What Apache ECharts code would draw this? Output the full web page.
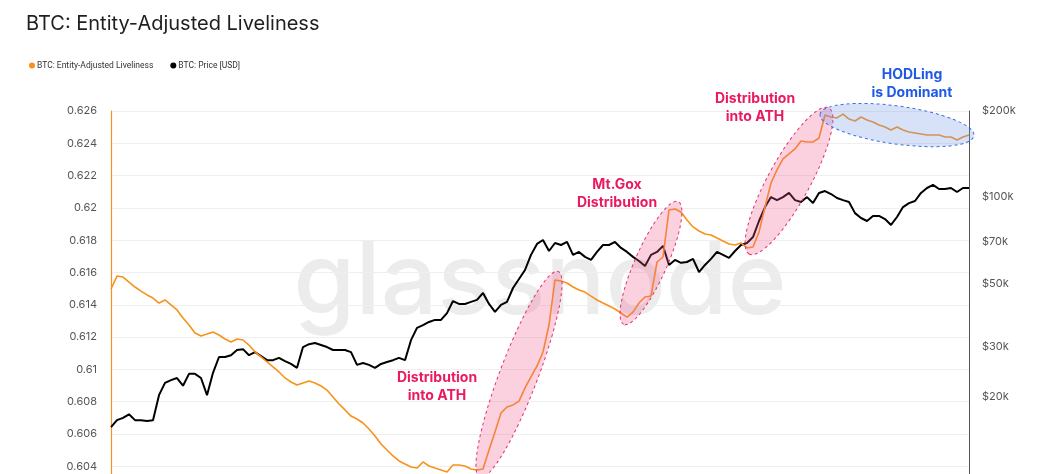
<!DOCTYPE html>
<html>
<head>
<meta charset="utf-8">
<title>BTC: Entity-Adjusted Liveliness</title>
<script src="https://cdn.jsdelivr.net/npm/echarts@6/dist/echarts.min.js"></script>
<style>
  html, body { margin: 0; padding: 0; background: #fff; }
  #chart { width: 1056px; height: 474px; }
</style>
</head>
<body>
<div id="chart"></div>
<script>
// liveliness (left axis)
const liveliness = [
  0.61498, 0.61578, 0.61572, 0.61541, 0.61510, 0.61485, 0.61461, 0.61442, 0.61411, 0.61430,
  0.61399, 0.61368, 0.61318, 0.61275, 0.61225, 0.61207, 0.61219, 0.61232, 0.61213, 0.61188,
  0.61170, 0.61188, 0.61182, 0.61151, 0.61108, 0.61077, 0.61046, 0.61015, 0.60984, 0.60947,
  0.60922, 0.60903, 0.60916, 0.60928, 0.60916, 0.60897, 0.60872, 0.60829, 0.60786, 0.60749,
  0.60711, 0.60693, 0.60668, 0.60631, 0.60588, 0.60538, 0.60501, 0.60464, 0.60433, 0.60414,
  0.60396, 0.60389, 0.60427, 0.60402, 0.60389, 0.60377, 0.60365, 0.60408, 0.60408, 0.60402,
  0.60383, 0.60377, 0.60383, 0.60501, 0.60612, 0.60730, 0.60767, 0.60780, 0.60804, 0.60885,
  0.60953, 0.61021, 0.61108, 0.61275, 0.61554, 0.61547, 0.61535, 0.61510, 0.61492, 0.61479,
  0.61454, 0.61430, 0.61411, 0.61393, 0.61374, 0.61349, 0.61324, 0.61355, 0.61411, 0.61448,
  0.61454, 0.61665, 0.61696, 0.61987, 0.61993, 0.61975, 0.61925, 0.61882, 0.61857, 0.61838,
  0.61832, 0.61814, 0.61795, 0.61776, 0.61770, 0.61783, 0.61752, 0.61758, 0.61851, 0.62006,
  0.62154, 0.62235, 0.62303, 0.62334, 0.62365, 0.62414, 0.62408, 0.62408, 0.62433, 0.62575,
  0.62563, 0.62557, 0.62581, 0.62550, 0.62538, 0.62563, 0.62544, 0.62532, 0.62513, 0.62501,
  0.62482, 0.62501, 0.62482, 0.62470, 0.62464, 0.62458, 0.62451, 0.62451, 0.62451, 0.62439,
  0.62439, 0.62420, 0.62439, 0.62451
];

// price in USD thousands (right axis, log)
const priceK = [
  15.7, 16.6, 16.9, 17.4, 16.6, 16.6, 16.5, 16.6, 20.3, 22.4,
  22.9, 23.3, 21.9, 24.1, 24.1, 23.3, 20.3, 24.3, 27.6, 27.6,
  28.0, 29.2, 29.4, 28.0, 28.7, 27.8, 26.9, 26.9, 27.4, 26.7,
  26.1, 25.3, 29.9, 30.6, 30.9, 30.4, 29.9, 29.2, 29.2, 29.2,
  28.7, 25.9, 26.3, 25.9, 25.3, 26.1, 26.5, 26.9, 27.4, 26.9,
  31.6, 34.9, 35.7, 36.6, 37.2, 37.2, 39.3, 43.3, 42.3, 42.3,
  43.0, 43.7, 46.2, 42.3, 39.7, 42.0, 43.0, 48.1, 51.7, 55.6,
  62.8, 68.6, 70.8, 64.8, 69.1, 68.0, 69.7, 62.8, 64.3, 61.8,
  60.3, 64.3, 68.0, 68.0, 69.7, 66.4, 64.3, 61.8, 59.8, 57.4,
  62.8, 64.3, 67.5, 57.9, 60.3, 58.9, 59.3, 60.8, 54.7, 57.9,
  60.8, 64.3, 62.8, 61.3, 64.8, 68.0, 69.1, 72.5, 82.5, 92.3,
  100.0, 97.6, 100.0, 103.4, 97.6, 96.1, 100.0, 95.3, 103.4, 105.0,
  102.5, 99.3, 97.6, 96.1, 87.9, 84.5, 82.5, 85.9, 85.9, 83.8,
  79.9, 85.2, 92.3, 95.3, 96.9, 103.4, 107.6, 110.3, 106.7, 106.7,
  107.6, 104.2, 107.6, 107.6
];

const leftTicks = [0.604, 0.606, 0.608, 0.61, 0.612, 0.614, 0.616, 0.618, 0.62, 0.622, 0.624, 0.626];
const priceTicksK = [20, 30, 50, 70, 100, 200];

// annotations: index ranges on the liveliness line
const notes = [
  { from: 62, to: 74, ry: 19, pad: 9, kind: 'pink' },
  { from: 86, to: 94, ry: 16, pad: 8, kind: 'pink' },
  { from: 107, to: 119, ry: 21, pad: 8, kind: 'pink' },
  { from: 119, to: 143, ry: 19, pad: 5, kind: 'blue' }
];

// weekly x categories (axis hidden)
const dates = [];
for (let i = 0; i < liveliness.length; i++) {
  const d = new Date(Date.UTC(2022, 11, 12) + i * 7 * 86400000);
  dates.push(d.toISOString().slice(0, 10));
}

const chart = echarts.init(document.getElementById('chart'));
const font = 'Inter, "Noto Sans", sans-serif';

const option = {
  animation: false,
  textStyle: { fontFamily: font },
  title: {
    text: 'BTC: Entity-Adjusted Liveliness',
    left: 21,
    top: 9,
    textStyle: { fontSize: 20, fontWeight: 'normal', color: '#1f1f1f', fontFamily: font }
  },
  legend: {
    left: 24,
    top: 56,
    icon: 'circle',
    itemWidth: 6,
    itemHeight: 6,
    itemGap: 17,
    textStyle: { fontSize: 8.5, color: '#333', fontFamily: 'Roboto, "Liberation Sans", sans-serif', padding: [0, 0, 0, -3] },
    data: ['BTC: Entity-Adjusted Liveliness', 'BTC: Price [USD]']
  },
  grid: { left: 111, right: 87, top: 111, height: 387.6, outerBoundsMode: 'none', containLabel: false },
  xAxis: {
    type: 'category',
    data: dates,
    boundaryGap: false,
    axisLine: { show: false },
    axisTick: { show: false },
    axisLabel: { show: false }
  },
  yAxis: [
    {
      type: 'value',
      min: 0.602,
      max: 0.626,
      interval: 0.002,
      axisLine: { show: true, lineStyle: { color: '#f7931a', width: 1.2 } },
      axisTick: { show: false },
      splitLine: { lineStyle: { color: '#efefef', width: 1 } },
      axisLabel: {
        color: '#555',
        fontSize: 11,
        margin: 14,
        customValues: leftTicks,
        formatter: v => String(+v.toFixed(3))
      }
    },
    {
      type: 'value',
      min: Math.log10(200) - 387.6 / 286,
      max: Math.log10(200),
      position: 'right',
      axisLine: { show: true, lineStyle: { color: '#555', width: 1 } },
      axisTick: { show: false },
      splitLine: { show: false },
      axisLabel: {
        color: '#555',
        fontSize: 11,
        margin: 13,
        customValues: priceTicksK.map(v => Math.log10(v)),
        formatter: v => '$' + Math.round(Math.pow(10, v)) + 'k'
      }
    }
  ],
  series: [
    {
      name: 'BTC: Entity-Adjusted Liveliness',
      type: 'line',
      yAxisIndex: 0,
      data: liveliness,
      showSymbol: false,
      z: 3,
      itemStyle: { color: '#f7931a' },
      lineStyle: { color: '#f7931a', width: 1.6 }
    },
    {
      name: 'BTC: Price [USD]',
      type: 'line',
      yAxisIndex: 1,
      data: priceK.map(v => Math.log10(v)),
      showSymbol: false,
      z: 2,
      itemStyle: { color: '#000' },
      lineStyle: { color: '#000', width: 2 }
    }
  ]
};

chart.setOption(option);

// watermark, ellipses and labels
const graphics = [
  {
    type: 'text',
    z: -10,
    silent: true,
    style: {
      text: 'glassnode',
      x: 540, y: 284,
      align: 'center',
      verticalAlign: 'middle',
      font: '500 100px Inter, "Noto Sans", sans-serif',
      fill: '#ececec'
    }
  }
];

notes.forEach(n => {
  const p1 = chart.convertToPixel({ gridIndex: 0 }, [n.from, liveliness[n.from]]);
  const p2 = chart.convertToPixel({ gridIndex: 0 }, [n.to, liveliness[n.to]]);
  const cx = (p1[0] + p2[0]) / 2;
  const cy = (p1[1] + p2[1]) / 2;
  const dx = p2[0] - p1[0];
  const dy = p2[1] - p1[1];
  const rx = Math.sqrt(dx * dx + dy * dy) / 2 + n.pad;
  const pink = n.kind === 'pink';
  graphics.push({
    type: 'ellipse',
    z: 100,
    silent: true,
    x: cx,
    y: cy,
    rotation: Math.atan2(-dy, dx),
    shape: { cx: 0, cy: 0, rx: rx, ry: n.ry },
    style: {
      fill: pink ? 'rgba(240, 90, 140, 0.28)' : 'rgba(110, 150, 235, 0.28)',
      stroke: pink ? '#e2306e' : '#3a6fe3',
      lineWidth: 1,
      lineDash: [3, 3]
    }
  });
});

const labels = [
  { text: 'Distribution\ninto ATH', x: 437, y: 387, color: '#ea1a62' },
  { text: 'Mt.Gox\nDistribution', x: 617, y: 194, color: '#ea1a62' },
  { text: 'Distribution\ninto ATH', x: 755, y: 108, color: '#ea1a62' },
  { text: 'HODLing\nis Dominant', x: 912, y: 84, color: '#1f5ae6' }
];
labels.forEach(l => {
  graphics.push({
    type: 'text',
    z: 110,
    silent: true,
    style: {
      text: l.text,
      x: l.x, y: l.y,
      align: 'center',
      verticalAlign: 'middle',
      lineHeight: 18,
      font: 'bold 14px Inter, "Noto Sans", sans-serif',
      fill: l.color
    }
  });
});

chart.setOption({ graphic: graphics });
</script>
</body>
</html>
